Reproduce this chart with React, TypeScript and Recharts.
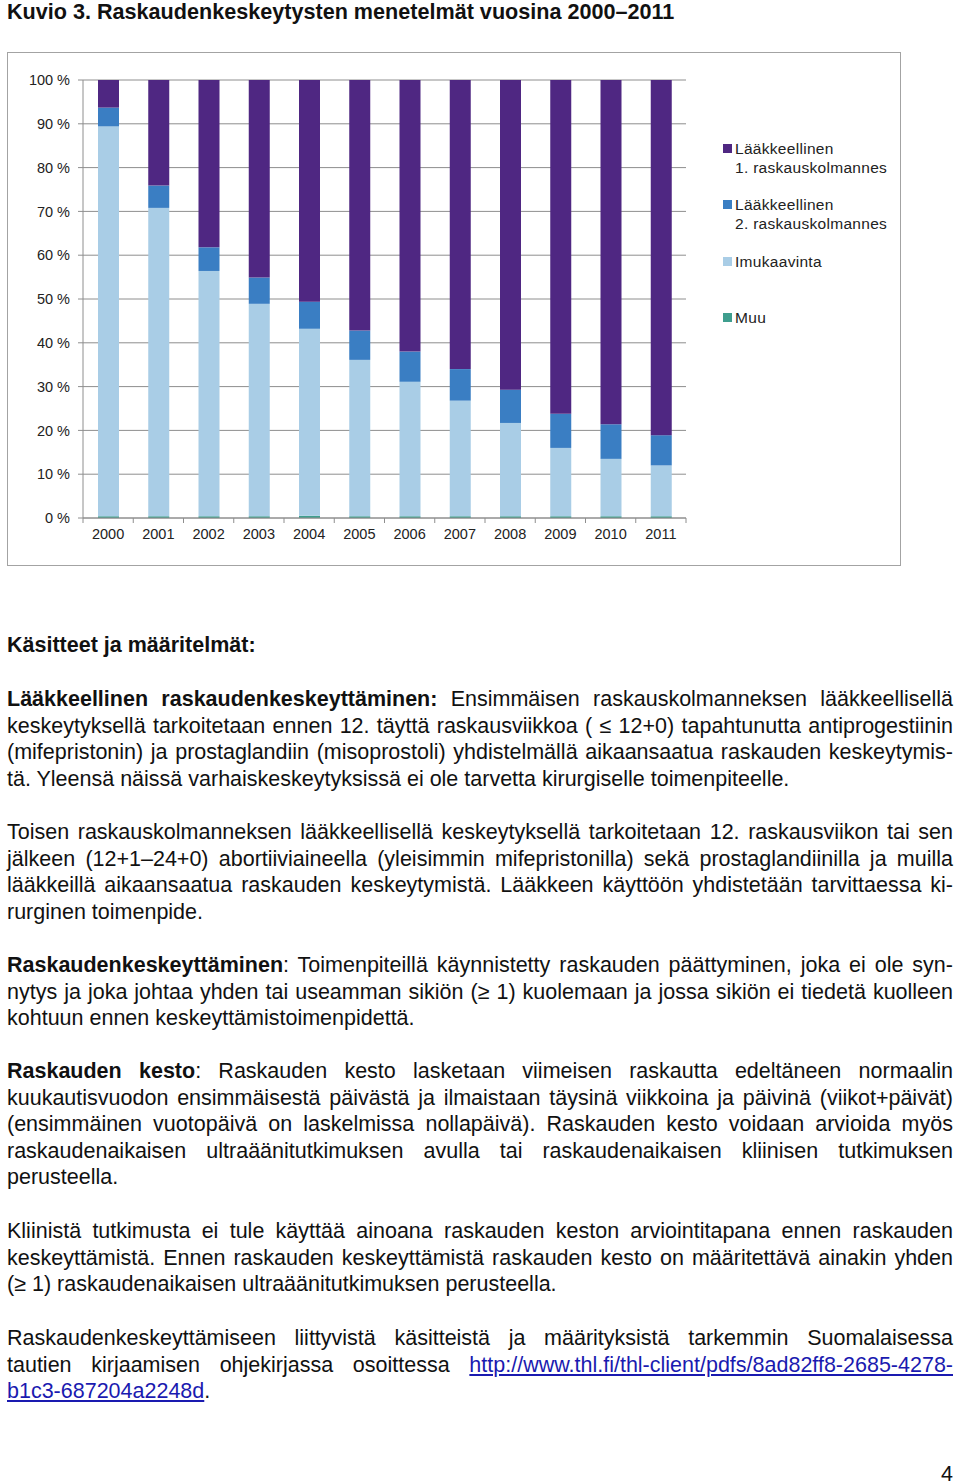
import React from 'react'
import {
  BarChart,
  Bar,
  XAxis,
  YAxis,
  CartesianGrid,
  Legend,
} from 'recharts'

// Vuodet ja menetelmien osuudet (%), luettu kuvasta
const years = ['2000', '2001', '2002', '2003', '2004', '2005', '2006', '2007', '2008', '2009', '2010', '2011']
const muu = [0.4, 0.4, 0.4, 0.4, 0.5, 0.4, 0.4, 0.4, 0.4, 0.4, 0.4, 0.4]
const imukaavinta = [89.0, 70.4, 56.0, 48.5, 42.7, 35.7, 30.7, 26.4, 21.3, 15.6, 13.1, 11.6]
const laakkeellinen2 = [4.3, 5.1, 5.4, 6.0, 6.2, 6.7, 6.9, 7.2, 7.6, 7.8, 7.9, 6.9]
const laakkeellinen1 = [6.3, 24.1, 38.2, 45.1, 50.6, 57.2, 62.0, 66.0, 70.7, 76.2, 78.6, 81.1]
const yTicks = [0, 10, 20, 30, 40, 50, 60, 70, 80, 90, 100]

// pinon järjestys alhaalta ylös
const series = [
  { key: 'muu', lines: ['Muu'], color: '#3f9e8e' },
  { key: 'imu', lines: ['Imukaavinta'], color: '#a9cde6' },
  { key: 'l2', lines: ['Lääkkeellinen', '2. raskauskolmannes'], color: '#3a7ec3' },
  { key: 'l1', lines: ['Lääkkeellinen', '1. raskauskolmannes'], color: '#4f2782' },
]

const chartData = years.map((year, i) => ({
  year,
  muu: muu[i],
  imu: imukaavinta[i],
  l2: laakkeellinen2[i],
  l1: laakkeellinen1[i],
}))

const FONT = '"Liberation Sans", Arial, sans-serif'
const axisColor = '#8e8e8e'
const TICK_SIZE = 5
const TICK_MARGIN = 6

type Seg = string | { b: string } | { a: string }
type Line = { segs: Seg[]; last?: boolean }

const p = (...rows: (Seg | Seg[])[]): Line[] =>
  rows.map((r, i) => ({ segs: Array.isArray(r) ? r : [r], last: i === rows.length - 1 }))

const link = 'http://www.thl.fi/thl-client/pdfs/8ad82ff8-2685-4278-b1c3-687204a2248d'

const paragraphs: { top: number; lines: Line[] }[] = [
  {
    top: 686,
    lines: p(
      [{ b: 'Lääkkeellinen raskaudenkeskeyttäminen:' }, ' Ensimmäisen raskauskolmanneksen lääkkeellisellä'],
      'keskeytyksellä tarkoitetaan ennen 12. täyttä raskausviikkoa ( ≤ 12+0) tapahtunutta antiprogestiinin',
      '(mifepristonin) ja prostaglandiin (misoprostoli) yhdistelmällä aikaansaatua raskauden keskeytymis-',
      'tä. Yleensä näissä varhaiskeskeytyksissä ei ole tarvetta kirurgiselle toimenpiteelle.',
    ),
  },
  {
    top: 819,
    lines: p(
      'Toisen raskauskolmanneksen lääkkeellisellä keskeytyksellä tarkoitetaan 12. raskausviikon tai sen',
      'jälkeen (12+1–24+0) abortiiviaineella (yleisimmin mifepristonilla) sekä prostaglandiinilla ja muilla',
      'lääkkeillä aikaansaatua raskauden keskeytymistä. Lääkkeen käyttöön yhdistetään tarvittaessa ki-',
      'rurginen toimenpide.',
    ),
  },
  {
    top: 952,
    lines: p(
      [{ b: 'Raskaudenkeskeyttäminen' }, ': Toimenpiteillä käynnistetty raskauden päättyminen, joka ei ole syn-'],
      'nytys ja joka johtaa yhden tai useamman sikiön (≥ 1) kuolemaan ja jossa sikiön ei tiedetä kuolleen',
      'kohtuun ennen keskeyttämistoimenpidettä.',
    ),
  },
  {
    top: 1058,
    lines: p(
      [{ b: 'Raskauden kesto' }, ': Raskauden kesto lasketaan viimeisen raskautta edeltäneen normaalin'],
      'kuukautisvuodon ensimmäisestä päivästä ja ilmaistaan täysinä viikkoina ja päivinä (viikot+päivät)',
      '(ensimmäinen vuotopäivä on laskelmissa nollapäivä). Raskauden kesto voidaan arvioida myös',
      'raskaudenaikaisen ultraäänitutkimuksen avulla tai raskaudenaikaisen kliinisen tutkimuksen',
      'perusteella.',
    ),
  },
  {
    top: 1218,
    lines: p(
      'Kliinistä tutkimusta ei tule käyttää ainoana raskauden keston arviointitapana ennen raskauden',
      'keskeyttämistä. Ennen raskauden keskeyttämistä raskauden kesto on määritettävä ainakin yhden',
      '(≥ 1) raskaudenaikaisen ultraäänitutkimuksen perusteella.',
    ),
  },
  {
    top: 1325,
    lines: p(
      'Raskaudenkeskeyttämiseen liittyvistä käsitteistä ja määrityksistä tarkemmin Suomalaisessa',
      ['tautien kirjaamisen ohjekirjassa osoittessa ', { a: 'http://www.thl.fi/thl-client/pdfs/8ad82ff8-2685-4278-' }],
      [{ a: 'b1c3-687204a2248d' }, '.'],
    ),
  },
]

function renderSeg(s: Seg, i: number) {
  if (typeof s === 'string') return <span key={i}>{s}</span>
  if ('b' in s) return <b key={i}>{s.b}</b>
  return (
    <a key={i} href={link} style={{ color: '#1a1ab0', textDecoration: 'underline' }}>
      {s.a}
    </a>
  )
}

// Excel-tyylinen tikki: viiva luokkien välissä, teksti keskellä
function YearTick(props: any) {
  const { x, y, payload, index, visibleTicksCount } = props
  const half = payload?.offset ?? 0
  const axisY = y - TICK_SIZE - TICK_MARGIN
  const isLast = index === visibleTicksCount - 1
  return (
    <g>
      <line x1={x - half} x2={x - half} y1={axisY} y2={axisY + TICK_SIZE} stroke={axisColor} />
      {isLast && <line x1={x + half} x2={x + half} y1={axisY} y2={axisY + TICK_SIZE} stroke={axisColor} />}
      <text x={x} y={y} dy="0.71em" textAnchor="middle" fill="#222" fontSize={14.5} fontFamily={FONT}>
        {payload.value}
      </text>
    </g>
  )
}

function ChartLegend() {
  return (
    <div style={{ fontFamily: FONT, fontSize: 15.5, letterSpacing: 0.3, color: '#222', lineHeight: '19px' }}>
      {[...series].reverse().map((s) => (
        <div key={s.key} style={{ height: 56.5, position: 'relative' }}>
          <span
            style={{
              position: 'absolute',
              left: 0,
              top: 5,
              width: 9,
              height: 9,
              background: s.color,
            }}
          />
          <div style={{ marginLeft: 12 }}>
            {s.lines.map((l) => (
              <div key={l} style={{ whiteSpace: 'nowrap' }}>{l}</div>
            ))}
          </div>
        </div>
      ))}
    </div>
  )
}

export default function App() {
  return (
    <div style={{ position: 'absolute', left: 0, top: 0, width: 960, height: 1484, background: '#fff', fontFamily: FONT, color: '#111' }}>
      <div style={{ position: 'absolute', left: 7, top: 0, fontSize: 21.6, fontWeight: 'bold', lineHeight: '24px', whiteSpace: 'nowrap' }}>
        Kuvio 3. Raskaudenkeskeytysten menetelmät vuosina 2000–2011
      </div>

      <div style={{ position: 'absolute', left: 8, top: 53, width: 892, height: 512 }}>
        <BarChart
          width={892}
          height={512}
          data={chartData}
          margin={{ top: 27, right: 214, left: 0, bottom: 0 }}
          barSize={21}
        >
          <CartesianGrid yAxisId="left" stroke={axisColor} vertical={false} horizontalValues={yTicks} />
          <XAxis
            dataKey="year"
            height={47}
            stroke={axisColor}
            tickLine={false}
            tickSize={TICK_SIZE}
            tickMargin={TICK_MARGIN}
            interval={0}
            tick={<YearTick />}
          />
          <YAxis
            yAxisId="left"
            domain={[0, 100]}
            ticks={yTicks}
            width={75}
            stroke={axisColor}
            tickSize={5}
            tickMargin={8}
            interval={0}
            tick={{ fill: '#222', fontSize: 14.5, fontFamily: FONT }}
            tickFormatter={(v) => `${v} %`}
          />
          <YAxis
            yAxisId="right"
            orientation="right"
            domain={[0, 100]}
            width={0}
            stroke={axisColor}
            tick={false}
            tickLine={false}
          />
          <Legend
            layout="horizontal"
            verticalAlign="middle"
            align="center"
            content={() => <ChartLegend />}
            wrapperStyle={{ position: 'absolute', left: 715, top: 85.5, width: 170 }}
          />
          {series.map((s) => (
            <Bar
              key={s.key}
              dataKey={s.key}
              stackId="a"
              yAxisId="left"
              fill={s.color}
              isAnimationActive={false}
            />
          ))}
        </BarChart>
      </div>
      <div style={{ position: 'absolute', left: 7, top: 52, width: 892, height: 512, border: '1.5px solid #a3a3a3', pointerEvents: 'none' }} />

      <div style={{ position: 'absolute', left: 7, top: 632, fontSize: 21.5, fontWeight: 'bold', lineHeight: '26.6px' }}>
        Käsitteet ja määritelmät:
      </div>

      {paragraphs.map((para, pi) => (
        <div key={pi} style={{ position: 'absolute', left: 7, top: para.top, width: 946, fontSize: 21.5, lineHeight: '26.6px' }}>
          {para.lines.map((ln, li) => (
            <div
              key={li}
              style={{
                textAlign: 'justify',
                textAlignLast: ln.last ? 'left' : 'justify',
                whiteSpace: 'nowrap',
              }}
            >
              {ln.segs.map(renderSeg)}
            </div>
          ))}
        </div>
      ))}

      <div style={{ position: 'absolute', right: 7, top: 1461, fontSize: 21.5, lineHeight: '26px' }}>4</div>
    </div>
  )
}
